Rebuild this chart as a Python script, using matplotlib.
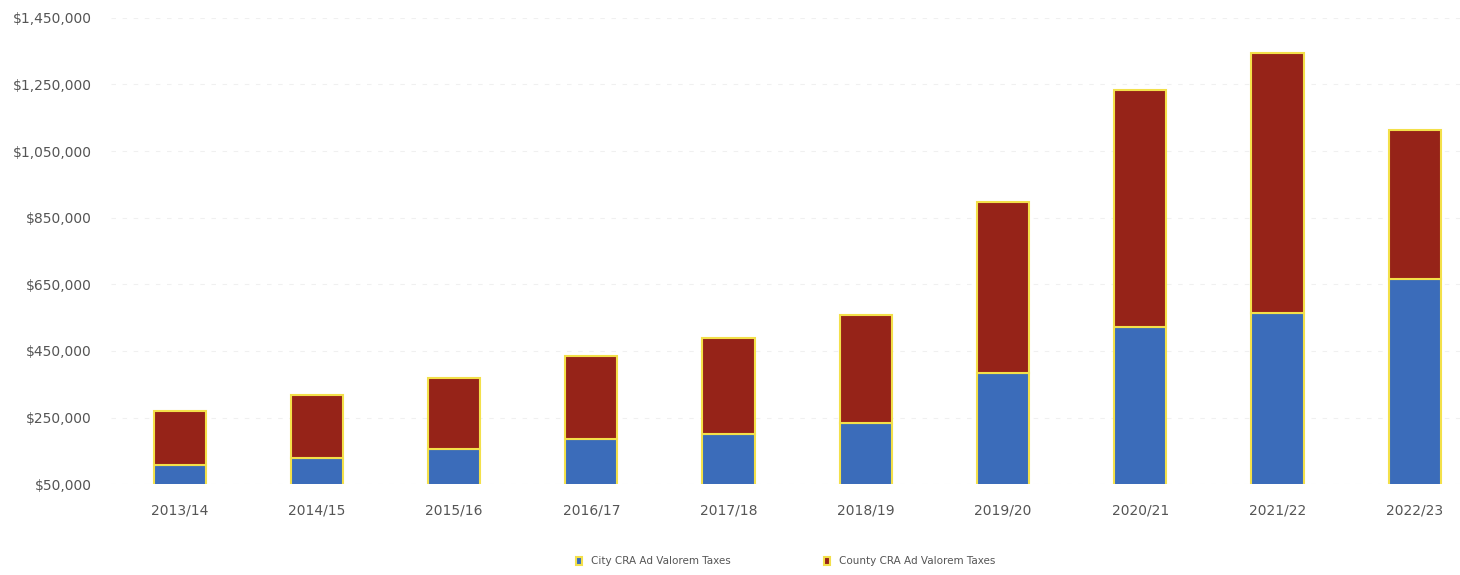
import matplotlib.pyplot as plt
import numpy as np
from matplotlib.ticker import FuncFormatter

# Dữ liệu
years = ["2013/14", "2014/15", "2015/16", "2016/17", "2017/18",
         "2018/19", "2019/20", "2020/21", "2021/22", "2022/23"]
city_taxes = [107000, 128000, 155000, 185000, 200000,
              233000, 383000, 521000, 564000, 666000]
county_taxes = [162000, 189000, 213000, 250000, 289000,
                325000, 514000, 713000, 781000, 448000]

blue = '#3b6cba'
red = '#962318'
edge = '#f3e04a'

fig = plt.figure(figsize=(14.6, 5.75), dpi=100)
ax = fig.add_axes([0.076, 0.158, 0.924, 0.811])

x = np.arange(len(years))
ax.bar(x, city_taxes, width=0.38, color=blue, edgecolor=edge, linewidth=1.5,
       label="City CRA Ad Valorem Taxes", zorder=3)
ax.bar(x, county_taxes, width=0.38, bottom=city_taxes, color=red, edgecolor=edge,
       linewidth=1.5, label="County CRA Ad Valorem Taxes", zorder=3)

ax.set_xlim(-0.5, 9.33)
ax.set_ylim(50000, 1450000)
ax.set_yticks(np.arange(50000, 1450001, 200000))
ax.yaxis.set_major_formatter(FuncFormatter(lambda v, p: "${:,.0f}".format(v)))
ax.set_xticks(x)
ax.set_xticklabels(years)

ax.grid(axis='y', color='#f0f0f0', linestyle=(0, (4, 6)), linewidth=0.8, zorder=0)
for s in ax.spines.values():
    s.set_visible(False)
ax.tick_params(length=0, labelsize=10, labelcolor='#555555')
ax.tick_params(axis='x', pad=14)
ax.tick_params(axis='y', pad=14)

ax.legend(loc='upper center', bbox_to_anchor=(0.5, -0.135), ncol=2, frameon=False,
          fontsize=7.5, labelcolor='#555555', handlelength=0.6, handleheight=0.9,
          columnspacing=9)

fig.savefig("out.png", dpi=100)
